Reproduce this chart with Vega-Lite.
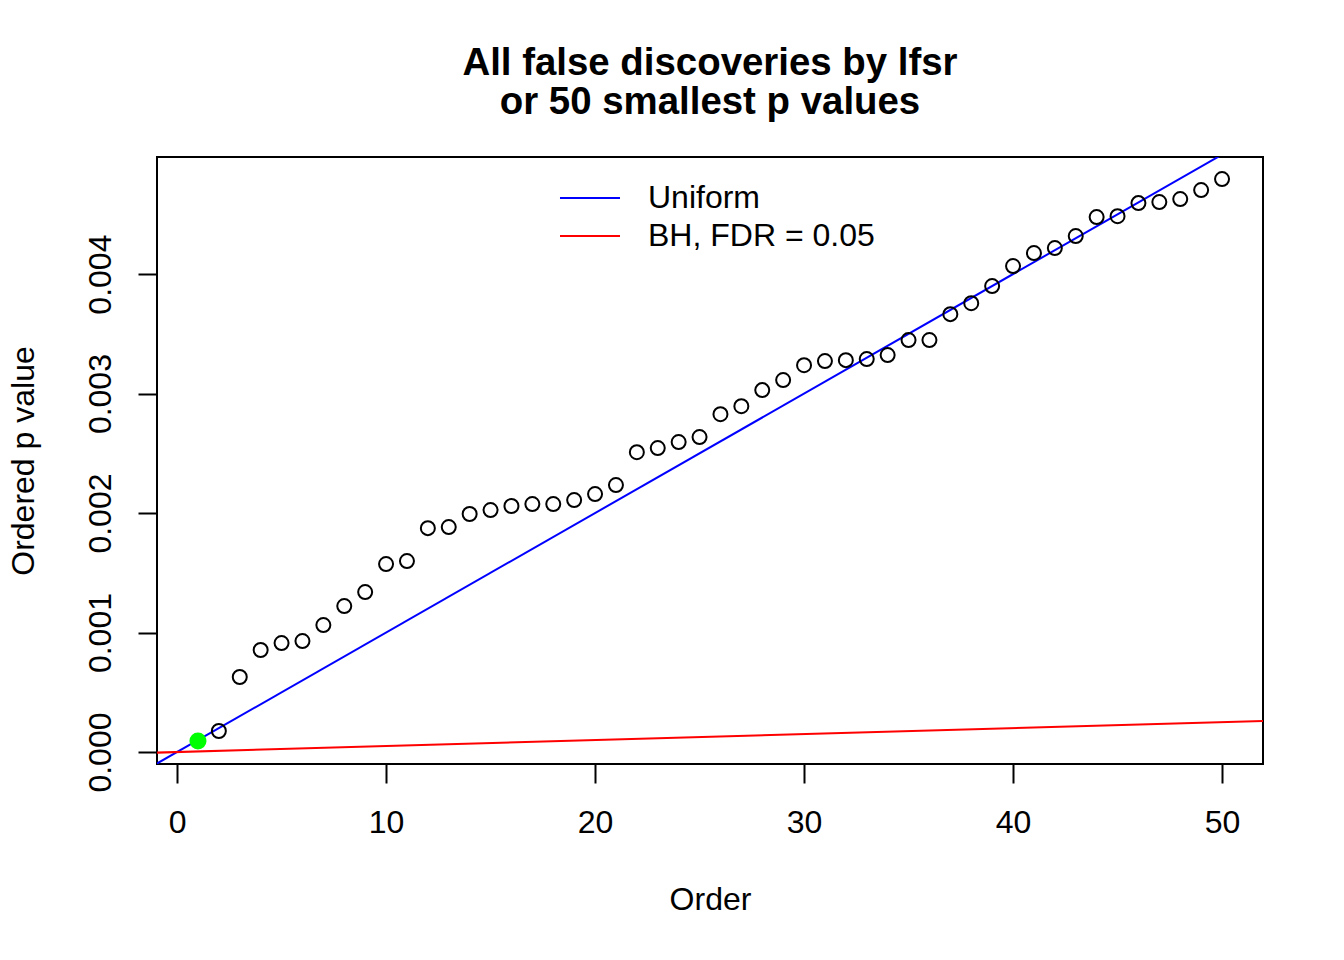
{
  "$schema": "https://vega.github.io/schema/vega-lite/v6.json",
  "width": 1106,
  "height": 607,
  "autosize": {"type": "none"},
  "padding": {"left": 157, "top": 157, "right": 81, "bottom": 196},
  "background": "white",
  "config": {
    "font": "Liberation Sans",
    "view": {"stroke": "black", "strokeWidth": 2},
    "axis": {
      "domain": false,
      "grid": false,
      "tickColor": "black",
      "tickWidth": 2,
      "tickSize": 19,
      "labelColor": "black",
      "labelFontSize": 32,
      "titleColor": "black",
      "titleFontSize": 32,
      "titleFontWeight": "normal"
    }
  },
  "title": {
    "text": ["All false discoveries by lfsr", "or 50 smallest p values"],
    "fontSize": 38.4,
    "fontWeight": "bold",
    "lineHeight": 38.4,
    "offset": 35,
    "anchor": "middle",
    "color": "black"
  },
  "datasets": {
    "pvals": [
      {"order": 1, "p": 0.000092},
      {"order": 2, "p": 0.000176},
      {"order": 3, "p": 0.000628},
      {"order": 4, "p": 0.000854},
      {"order": 5, "p": 0.000912},
      {"order": 6, "p": 0.000929},
      {"order": 7, "p": 0.001063},
      {"order": 8, "p": 0.001222},
      {"order": 9, "p": 0.001339},
      {"order": 10, "p": 0.001573},
      {"order": 11, "p": 0.001598},
      {"order": 12, "p": 0.001874},
      {"order": 13, "p": 0.001883},
      {"order": 14, "p": 0.001992},
      {"order": 15, "p": 0.002025},
      {"order": 16, "p": 0.002059},
      {"order": 17, "p": 0.002075},
      {"order": 18, "p": 0.002075},
      {"order": 19, "p": 0.002109},
      {"order": 20, "p": 0.002159},
      {"order": 21, "p": 0.002234},
      {"order": 22, "p": 0.002510},
      {"order": 23, "p": 0.002544},
      {"order": 24, "p": 0.002594},
      {"order": 25, "p": 0.002636},
      {"order": 26, "p": 0.002828},
      {"order": 27, "p": 0.002895},
      {"order": 28, "p": 0.003029},
      {"order": 29, "p": 0.003113},
      {"order": 30, "p": 0.003238},
      {"order": 31, "p": 0.003272},
      {"order": 32, "p": 0.003280},
      {"order": 33, "p": 0.003289},
      {"order": 34, "p": 0.003322},
      {"order": 35, "p": 0.003448},
      {"order": 36, "p": 0.003448},
      {"order": 37, "p": 0.003665},
      {"order": 38, "p": 0.003757},
      {"order": 39, "p": 0.003900},
      {"order": 40, "p": 0.004067},
      {"order": 41, "p": 0.004176},
      {"order": 42, "p": 0.004218},
      {"order": 43, "p": 0.004318},
      {"order": 44, "p": 0.004477},
      {"order": 45, "p": 0.004485},
      {"order": 46, "p": 0.004594},
      {"order": 47, "p": 0.004603},
      {"order": 48, "p": 0.004628},
      {"order": 49, "p": 0.004703},
      {"order": 50, "p": 0.004795}
    ],
    "lines": [
      {"series": "Uniform", "order": -2, "p": -0.0002},
      {"series": "Uniform", "order": 54, "p": 0.0054},
      {"series": "BH, FDR = 0.05", "order": -2, "p": -0.00001},
      {"series": "BH, FDR = 0.05", "order": 54, "p": 0.00027}
    ]
  },
  "layer": [
    {
      "data": {"name": "lines"},
      "mark": {"type": "line", "clip": true, "strokeWidth": 2},
      "encoding": {
        "x": {
          "field": "order", "type": "quantitative",
          "scale": {"domain": [-0.96, 51.96], "nice": false, "zero": false},
          "axis": {"values": [0, 10, 20, 30, 40, 50], "title": "Order", "labelPadding": 24, "titlePadding": 46}
        },
        "y": {
          "field": "p", "type": "quantitative",
          "scale": {"domain": [-0.0001, 0.00498], "nice": false, "zero": false},
          "axis": {
            "values": [0, 0.001, 0.002, 0.003, 0.004],
            "format": ".3f",
            "title": "Ordered p value",
            "labelAngle": -90,
            "labelAlign": "center",
            "labelBaseline": "alphabetic",
            "labelPadding": 28,
            "titlePadding": 44
          }
        },
        "detail": {"field": "series"},
        "color": {
          "field": "series", "type": "nominal",
          "scale": {"domain": ["Uniform", "BH, FDR = 0.05"], "range": ["#0000FF", "#FF0000"]},
          "legend": {
            "title": null,
            "orient": "none",
            "legendX": 414,
            "legendY": 22,
            "padding": 0,
            "rowPadding": 3,
            "symbolType": "M-1.667,0H1.667",
            "symbolSize": 1296,
            "symbolStrokeWidth": 2,
            "labelFontSize": 32,
            "labelColor": "black",
            "labelLimit": 0,
            "labelOffset": 39
          }
        }
      }
    },
    {
      "data": {"name": "pvals"},
      "transform": [{"filter": "datum.order > 1"}],
      "mark": {"type": "point", "shape": "circle", "filled": false, "stroke": "black", "strokeWidth": 2, "size": 196, "opacity": 1},
      "encoding": {
        "x": {"field": "order", "type": "quantitative"},
        "y": {"field": "p", "type": "quantitative"}
      }
    },
    {
      "data": {"name": "pvals"},
      "transform": [{"filter": "datum.order == 1"}],
      "mark": {"type": "point", "shape": "circle", "filled": true, "fill": "#00FF00", "size": 290, "opacity": 1},
      "encoding": {
        "x": {"field": "order", "type": "quantitative"},
        "y": {"field": "p", "type": "quantitative"}
      }
    }
  ]
}
